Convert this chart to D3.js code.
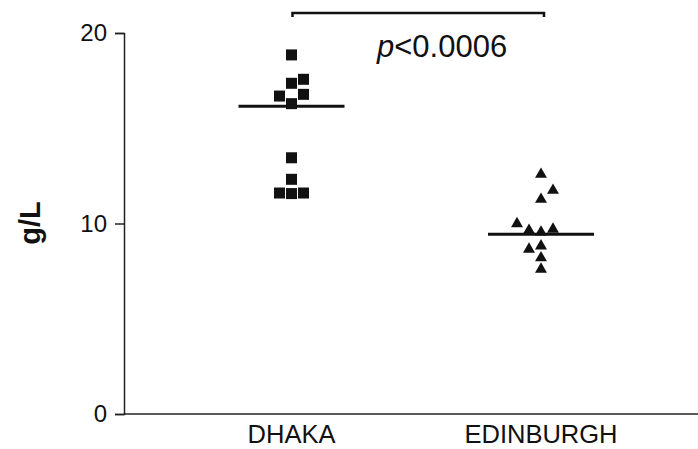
<!DOCTYPE html>
<html>
<head>
<meta charset="utf-8">
<script src="https://cdn.jsdelivr.net/npm/d3@7"></script>
<style>
  body { margin: 0; background: #fff; }
  text { font-family: Arial, "Liberation Sans", sans-serif; fill: #111; }
</style>
</head>
<body>
<svg width="698" height="449"></svg>
<script>
// data
var groups = ['DHAKA', 'EDINBURGH'];
var dhakaValues = [18.85, 17.57, 17.36, 16.78, 16.69, 16.29, 13.45, 12.32, 11.6, 11.57, 11.6];
var dhakaSlots  = [0, 1, 0, 1, -1, 0, 0, 0, -1, 0, 1];
var edinValues  = [12.58, 11.74, 11.27, 9.99, 9.64, 9.55, 9.7, 8.65, 8.82, 8.2, 7.6];
var edinSlots   = [0, 1, 0, -2, -1, 0, 1, -1, 0, 0, 0];
var medians     = [16.15, 9.43];
var yTicks      = [0, 10, 20];
var pLabel      = '<0.0006';

var svg = d3.select('svg');
var y = d3.scaleLinear().domain([0, 20]).range([414, 33]);
var x = d3.scalePoint().domain(groups).range([291.5, 541]);
var axisX = 124, axisRight = 698, slotW = 12;

// y axis
var yAxis = svg.append('g')
	.attr('transform', 'translate(' + axisX + ',0)')
	.call(d3.axisLeft(y).tickValues(yTicks).tickSize(9).tickPadding(8));
yAxis.select('.domain').attr('stroke', '#222').attr('stroke-width', 1.5);
yAxis.selectAll('.tick line').attr('stroke', '#222').attr('stroke-width', 1.5);
yAxis.selectAll('.tick text').attr('font-size', 24).attr('font-family', 'Arial, "Liberation Sans", sans-serif').attr('fill', '#111');

// x axis (line only, category labels below)
svg.append('line')
	.attr('x1', axisX).attr('x2', axisRight)
	.attr('y1', y(0)).attr('y2', y(0))
	.attr('stroke', '#222').attr('stroke-width', 1.5);

svg.selectAll('text.cat').data(groups).enter()
	.append('text')
	.attr('class', 'cat')
	.attr('x', function(d){ return x(d); })
	.attr('y', 443)
	.attr('text-anchor', 'middle')
	.attr('font-size', 25.5)
	.text(function(d){ return d; });

// y label
svg.append('text')
	.attr('transform', 'translate(40,223) rotate(-90)')
	.attr('text-anchor', 'middle')
	.attr('font-size', 29)
	.attr('font-weight', 'bold')
	.text('g/L');

// Dhaka squares
var dhaka = dhakaValues.map(function(v, i){ return { v: v, s: dhakaSlots[i] }; });
svg.selectAll('rect.pt').data(dhaka).enter()
	.append('rect')
	.attr('class', 'pt')
	.attr('x', function(d){ return x('DHAKA') + d.s * slotW - 5.5; })
	.attr('y', function(d){ return y(d.v) - 5.5; })
	.attr('width', 11).attr('height', 11)
	.attr('fill', '#111');

// Edinburgh triangles
var edin = edinValues.map(function(v, i){ return { v: v, s: edinSlots[i] }; });
var tri = d3.symbol().type(d3.symbolTriangle).size(62);
svg.selectAll('path.pt').data(edin).enter()
	.append('path')
	.attr('class', 'pt')
	.attr('transform', function(d){ return 'translate(' + (x('EDINBURGH') + d.s * slotW) + ',' + y(d.v) + ')'; })
	.attr('d', tri)
	.attr('fill', '#111');

// medians
svg.selectAll('line.med').data(groups).enter()
	.append('line')
	.attr('class', 'med')
	.attr('x1', function(d){ return x(d) - 53; })
	.attr('x2', function(d){ return x(d) + 53; })
	.attr('y1', function(d, i){ return y(medians[i]); })
	.attr('y2', function(d, i){ return y(medians[i]); })
	.attr('stroke', '#111').attr('stroke-width', 3);

// significance bracket
var bx1 = x('DHAKA') + 1, bx2 = x('EDINBURGH') + 3, by = 13;
svg.append('path')
	.attr('d', 'M' + bx1 + ',' + (by + 4) + 'V' + by + 'H' + bx2 + 'V' + (by + 4))
	.attr('fill', 'none').attr('stroke', '#111').attr('stroke-width', 2.5);

var pt = svg.append('text')
	.attr('x', 377).attr('y', 57)
	.attr('font-size', 31);
pt.append('tspan').attr('font-style', 'italic').text('p');
pt.append('tspan').text(pLabel);
</script>
</body>
</html>
